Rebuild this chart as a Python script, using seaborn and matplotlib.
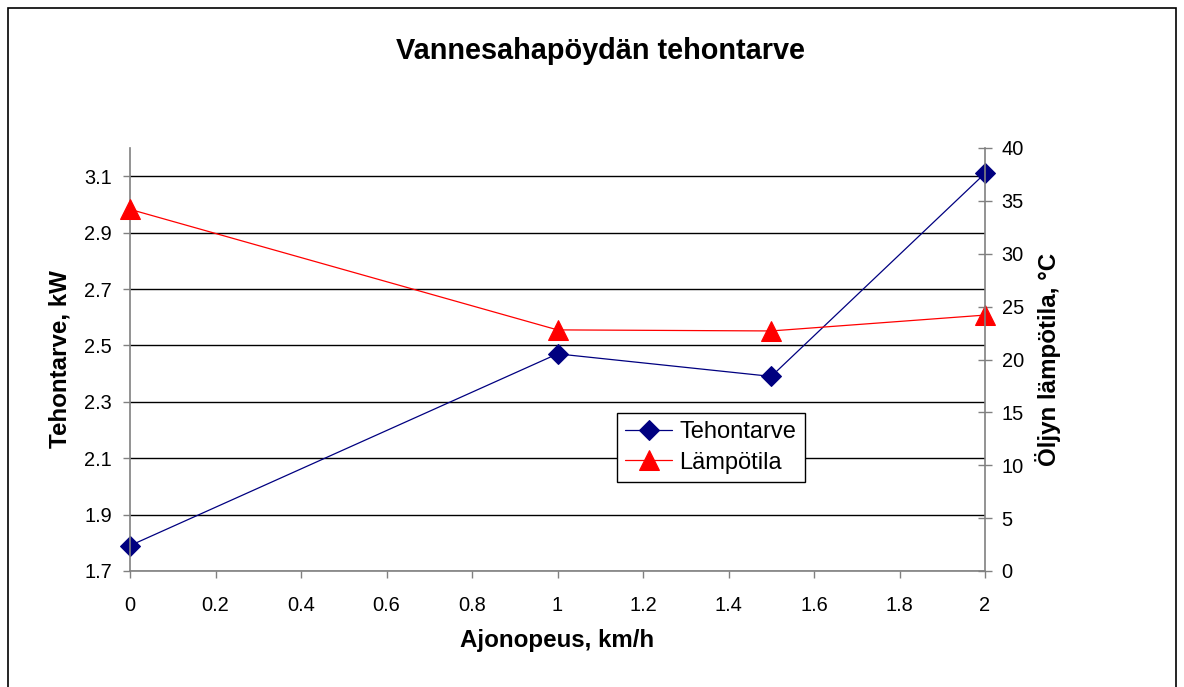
import matplotlib.pyplot as plt
import matplotlib.patches as patches
import seaborn as sns

# data
speed = [0, 1, 1.5, 2]
power = [1.79, 2.47, 2.39, 3.11]
temp = [34.2, 22.8, 22.7, 24.2]

sns.set_theme(style="white")
plt.rcParams['font.family'] = ['Liberation Sans', 'DejaVu Sans']
plt.rcParams['text.color'] = 'black'

fig = plt.figure(figsize=(11.84, 6.87), dpi=100)
ax = fig.add_axes([130 / 1184, 1 - 571 / 687, 855 / 1184, 423 / 687])
ax2 = ax.twinx()

sns.lineplot(x=speed, y=power, ax=ax, color="#000080", marker="D", markersize=10,
             markeredgecolor="#000080", linewidth=0.9, label="Tehontarve", legend=False,
             clip_on=False)
sns.lineplot(x=speed, y=temp, ax=ax2, color="#FF0000", marker="^", markersize=14,
             markeredgecolor="#FF0000", linewidth=0.9, label="Lämpötila", legend=False,
             clip_on=False)

ax.set_xlim(0, 2)
ax.set_ylim(1.7, 3.2)
ax.set_yticks([1.7, 1.9, 2.1, 2.3, 2.5, 2.7, 2.9, 3.1])
ax.set_xticks([0, 0.2, 0.4, 0.6, 0.8, 1, 1.2, 1.4, 1.6, 1.8, 2])
ax.set_xticklabels(["0", "0.2", "0.4", "0.6", "0.8", "1", "1.2", "1.4", "1.6", "1.8", "2"])
ax2.set_ylim(0, 40)
ax2.set_yticks(range(0, 41, 5))

ax.grid(axis="y", color="black", linewidth=1)
ax.grid(axis="x", visible=False)
ax2.grid(False)
ax2.patch.set_visible(False)
ax.set_zorder(0)
ax2.set_zorder(1)

for a in (ax, ax2):
    a.spines["top"].set_visible(False)
    for s in ("left", "right", "bottom"):
        a.spines[s].set_color("#808080")
        a.spines[s].set_linewidth(1.2)
ax.spines["right"].set_visible(False)
ax2.spines["left"].set_visible(False)
ax2.spines["bottom"].set_visible(False)

ax.tick_params(axis="both", labelsize=14.4, colors="#808080", labelcolor="black",
               direction="out", length=5, width=1, left=True, bottom=True)
ax.tick_params(axis="x", pad=13)
ax.tick_params(axis="y", pad=8)
ax2.tick_params(axis="y", labelsize=14.4, colors="#808080", labelcolor="black",
                direction="inout", length=10, width=1, right=True, pad=7)

ax.set_xlabel("Ajonopeus, km/h", fontsize=17.4, fontweight="bold", va="center", color="black")
ax.xaxis.set_label_coords(0.5, -(640 - 571) / 423)
ax.set_ylabel("Tehontarve, kW", fontsize=17.4, fontweight="bold", va="center", color="black")
ax.yaxis.set_label_coords((60 - 130) / 855, 0.5)
ax2.set_ylabel("Öljyn lämpötila, °C", fontsize=17.4, fontweight="bold", va="center",
               rotation=90, color="black")
ax2.yaxis.set_label_coords((1048 - 130) / 855, 0.5)

fig.text(601 / 1184, 1 - 51 / 687, "Vannesahapöydän tehontarve", fontsize=20.8,
         fontweight="bold", ha="center", va="center", color="black")

h1, l1 = ax.get_legend_handles_labels()
h2, l2 = ax2.get_legend_handles_labels()
leg = ax2.legend(h1 + h2, l1 + l2, loc="upper left",
                 bbox_to_anchor=((617 - 130) / 855, (571 - 413) / 423),
                 fontsize=17, frameon=True, fancybox=False, framealpha=1,
                 edgecolor="black", borderpad=0.35, handlelength=2.0,
                 handletextpad=0.3, labelspacing=0.35, borderaxespad=0)
leg.get_frame().set_linewidth(1)
for t in leg.get_texts():
    t.set_color("black")

fig.patches.append(patches.Rectangle((8 / 1184, -0.02), 1168 / 1184, 1 - 8 / 687 + 0.02,
                                     transform=fig.transFigure, fill=False,
                                     edgecolor="black", linewidth=1.2))

plt.savefig("out.png", dpi=100)
